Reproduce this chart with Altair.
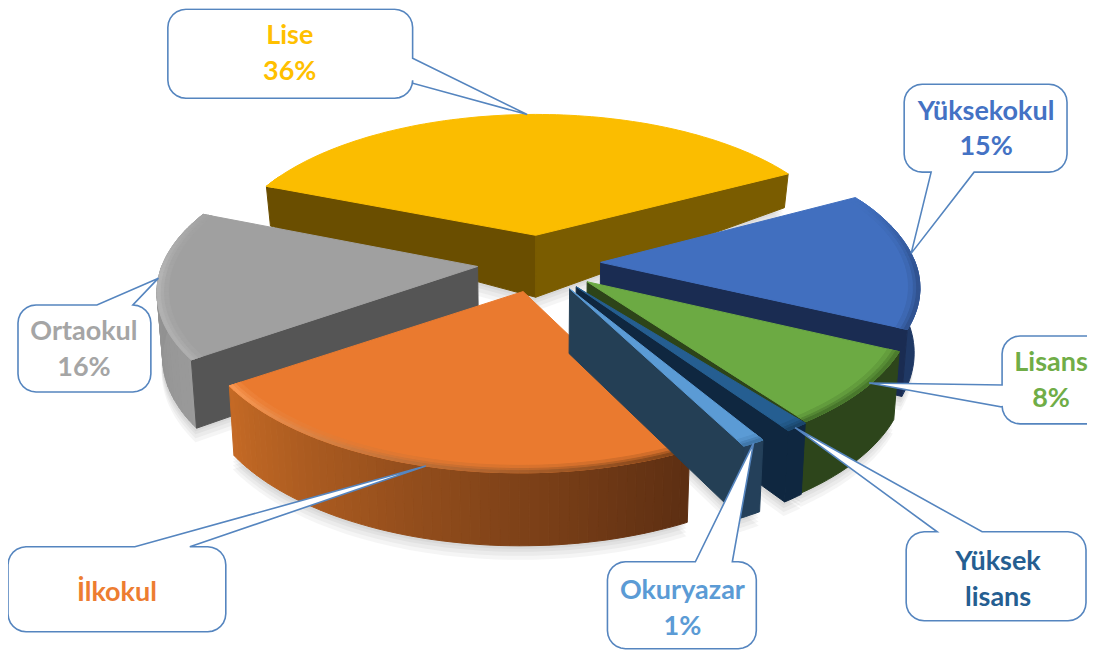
import math
import altair as alt

# ---- chart data -------------------------------------------------------
CATEGORIES = ["Lise", "Yüksekokul", "Lisans", "Yüksek lisans", "Okuryazar", "İlkokul", "Ortaokul"]
SHARES = [36, 15, 8, 1, 1, 23, 16]
LABEL_LINES = [["Lise", "36%"], ["Yüksekokul", "15%"], ["Lisans", "8%"], ["Yüksek", "lisans"],
               ["Okuryazar", "1%"], ["İlkokul"], ["Ortaokul", "16%"]]
TOP_COLORS = ["#fbbd00", "#416fbf", "#6caa43", "#255e91", "#5b9bd5", "#ea7a2f", "#a0a0a0"]
LABEL_COLORS = ["#ffc000", "#4472c4", "#70ad47", "#255e91", "#5b9bd5", "#ed7d31", "#a5a5a5"]
# rim colour at slice start / slice end
RIM_COLORS = [("#6a4e00", "#7a5c00"), ("#1f3864", "#1f3864"), ("#2d451b", "#2d451b"),
              ("#0f2740", "#0f2740"), ("#24405a", "#24405a"), ("#5c2e12", "#c56a25"),
              ("#9a9a9a", "#8c8c8c")]
# radial wall colours at slice start / slice end
WALL_COLORS = [("#6a4e00", "#7a5c00"), ("#1a2c52", "#1a2c52"), ("#2d4419", "#2d4419"),
               ("#0f2740", "#0f2740"), ("#243f55", "#243f55"), ("#5c2e12", "#7a3f16"),
               ("#555555", "#555555")]
# highlight colour on the rounded top edge, slice start / end
BEVEL_COLORS = [("#fbbd00", "#fbbd00"), ("#30528f", "#30528f"), ("#4a7a2c", "#44702a"),
                ("#1a4569", "#1a4569"), ("#3f75a8", "#3f75a8"), ("#7c4016", "#fa9a55"),
                ("#b0b0b0", "#b8b8b8")]
PAINT_ORDER = [0, 1, 6, 2, 3, 5, 4]

# ---- pie geometry (page pixels) ----------------------------------------
CX, CY, A, B, K = 539.5, 263.0, 315.0, 146.0, 0.145
EXPLODE = 0.196
START = -68.0
ANGLE_TWEAK = [0, 0, 0, -2.3, 1.3, 1.5, 0]

spans = []
_a = START
for s in SHARES:
    spans.append((_a, _a + s * 3.6))
    _a += s * 3.6
spans = [(a0 + t, a1 + t) for (a0, a1), t in zip(spans, ANGLE_TWEAK)]


def ground(i, ang, r=1.0):
    a0, a1 = spans[i]
    mid = math.radians((a0 + a1) / 2)
    t = math.radians(ang)
    return (EXPLODE * math.sin(mid) + r * math.sin(t), EXPLODE * math.cos(mid) + r * math.cos(t))


def proj(X, Y, lower=False):
    w = 1 + K * Y
    x = CX + A * X / w
    y = CY - B * Y / w
    if lower:
        h = 62 - (Y - EXPLODE) * 59 if Y > EXPLODE else 62 + (EXPLODE - Y) * 8
        x = CX + (x - CX) * 0.985
        y += h
    return [round(x - 8, 1), round(y - 8, 1)]


def top(i, ang, r=1.0):
    return proj(*ground(i, ang, r))


def bot(i, ang, r=1.0):
    return proj(*ground(i, ang, r), lower=True)


def rgb(h):
    return [int(h[j:j + 2], 16) for j in (1, 3, 5)]


def mix(c1, c2, t):
    a, b = rgb(c1), rgb(c2)
    return "#%02x%02x%02x" % tuple(round(a[j] + (b[j] - a[j]) * t) for j in range(3))


def poly(points, fill, opacity=1.0, stroke=True):
    ring = points + [points[0]]
    return {"type": "Feature", "geometry": {"type": "Polygon", "coordinates": [ring]},
            "properties": {"fill": fill, "o": opacity, "s": fill if stroke else "transparent"}}


features = []

# soft shadow under every slice
for i in range(len(SHARES)):
    a0, a1 = spans[i]
    n = 30
    for off in (3, 6, 10, 14):
        pts = [bot(i, a0 + (a1 - a0) * j / n) for j in range(n + 1)] + [bot(i, a0, 0.0)]
        pts = [[p[0] - 1, p[1] + off] for p in pts]
        features.append(poly(pts, "#000000", 0.035, stroke=False))

for i in PAINT_ORDER:
    a0, a1 = spans[i]
    n = max(4, int((a1 - a0) / 1.5))
    steps = [(a0 + (a1 - a0) * j / n, a0 + (a1 - a0) * (j + 1) / n, (j + 0.5) / n) for j in range(n)]
    # outer rim: only the part that faces the viewer
    front = [st for st in steps if math.cos(math.radians((st[0] + st[1]) / 2)) < 0.02]
    if front:
        if RIM_COLORS[i][0] == RIM_COLORS[i][1]:
            upper = [top(i, front[0][0])] + [top(i, st[1]) for st in front]
            lower = [bot(i, front[0][0])] + [bot(i, st[1]) for st in front]
            features.append(poly(upper + lower[::-1], RIM_COLORS[i][0]))
        else:
            for u0, u1, t in front:
                col = mix(RIM_COLORS[i][0], RIM_COLORS[i][1], t)
                features.append(poly([top(i, u0), top(i, u1), bot(i, u1), bot(i, u0)], col))
    # radial walls: only those that face the viewer
    if math.cos(math.radians(a0 - 90)) < 0:
        features.append(poly([top(i, a0, 0), top(i, a0), bot(i, a0), bot(i, a0, 0)], WALL_COLORS[i][0]))
    if math.cos(math.radians(a1 + 90)) < 0:
        features.append(poly([top(i, a1, 0), top(i, a1), bot(i, a1), bot(i, a1, 0)], WALL_COLORS[i][1]))
    arc = [top(i, a0)] + [top(i, st[1]) for st in steps]
    features.append(poly(arc + [top(i, a0, 0)], TOP_COLORS[i]))
    # rounded top edge, fading out towards the far side
    rings = [(0.965, 0.98, 0.25), (0.98, 0.99, 0.6), (0.99, 1.0, 0.95)]
    for r0, r1, t in rings:
        for u0, u1, f in steps:
            fade = min(1.0, max(0.0, (0.45 - math.cos(math.radians((u0 + u1) / 2))) / 0.5))
            if fade <= 0:
                continue
            col = mix(TOP_COLORS[i], mix(BEVEL_COLORS[i][0], BEVEL_COLORS[i][1], f), t * fade)
            features.append(poly([top(i, u0, r0), top(i, u1, r0), top(i, u1, r1), top(i, u0, r1)], col))


# ---- callouts -----------------------------------------------------------
def corner(cx, cy, rad, start):
    out = []
    for j in range(7):
        t = math.radians(start + 15 * j)
        out.append([cx + rad * math.cos(t) - 8, cy + rad * math.sin(t) - 8])
    return out


def callout(box, side, base, i, frac, r, rad=18):
    x0, y0, x1, y1 = box
    a0, a1 = spans[i]
    tip = top(i, a0 + (a1 - a0) * frac, r)
    wedge = [[base[0][0] - 8, base[0][1] - 8], tip, [base[1][0] - 8, base[1][1] - 8]]
    pts = corner(x0 + rad, y0 + rad, rad, 180)
    if side == "top":
        pts += wedge
    pts += corner(x1 - rad, y0 + rad, rad, 270)
    if side == "right":
        pts += wedge
    pts += corner(x1 - rad, y1 - rad, rad, 0)
    if side == "bottom":
        pts += wedge
    pts += corner(x0 + rad, y1 - rad, rad, 90)
    if side == "left":
        pts += wedge
    return poly(pts, "#ffffff")


CALLOUT_BOXES = [
    ((168, 9, 413, 98), "right", [(413, 58), (413, 83)], 0, 0.51, 1.0),
    ((905, 84, 1068, 172), "bottom", [(975, 172), (932, 172)], 1, 0.46, 1.0),
    ((1003, 336, 1112, 424), "left", [(1003, 407), (1003, 385)], 2, 0.42, 0.995),
    ((907, 532, 1087, 621), "top", [(938, 532), (983, 532)], 3, 0.6, 1.0),
    ((608, 562, 757, 649), "top", [(696, 562), (733, 562)], 4, 0.5, 1.0),
    ((8, 547, 226, 632), "top", [(135, 547), (190, 547)], 5, 0.5, 1.0),
    ((18, 305, 151, 392), "top", [(97, 305), (133, 305)], 6, 0.54, 1.0),
]

callouts = [callout(*c) for c in CALLOUT_BOXES]

TEXT_CENTERS = [(290, 35.5, 36), (987, 112, 35), (1052, 363, 36), (999, 562, 36),
                (683, 591, 36), (117, 593, 0), (84, 332, 36)]
text_rows = []
for (tx, ty, dy), lines, col in zip(TEXT_CENTERS, LABEL_LINES, LABEL_COLORS):
    for n, line in enumerate(lines):
        text_rows.append({"x": tx - 8, "y": ty - 8 + n * dy, "t": line, "c": col})

# ---- chart ----------------------------------------------------------------
identity = dict(type="identity", scale=1, translate=[0, 0])

slices = alt.Chart(alt.Data(values=features)).mark_geoshape(strokeWidth=1.0).encode(
    color=alt.Color("properties.fill:N", scale=None, legend=None),
    stroke=alt.Stroke("properties.s:N", scale=None, legend=None),
    opacity=alt.Opacity("properties.o:Q", scale=None, legend=None),
).project(**identity)

boxes = alt.Chart(alt.Data(values=callouts)).mark_geoshape(
    fill="#ffffff", stroke="#5585bf", strokeWidth=1.6
).project(**identity)

texts = alt.Chart(alt.Data(values=text_rows)).mark_text(
    font="Lato", fontSize=27, fontWeight="bold", baseline="middle", align="center"
).encode(
    x=alt.X("x:Q", scale=None, axis=None),
    y=alt.Y("y:Q", scale=None, axis=None),
    text="t:N",
    color=alt.Color("c:N", scale=None, legend=None),
)

chart = alt.layer(slices, boxes, texts).properties(
    width=1080, height=643, padding=0, background="#ffffff"
).configure_view(stroke=None)

chart.save("out.html", embed_options={"renderer": "svg", "actions": False})
